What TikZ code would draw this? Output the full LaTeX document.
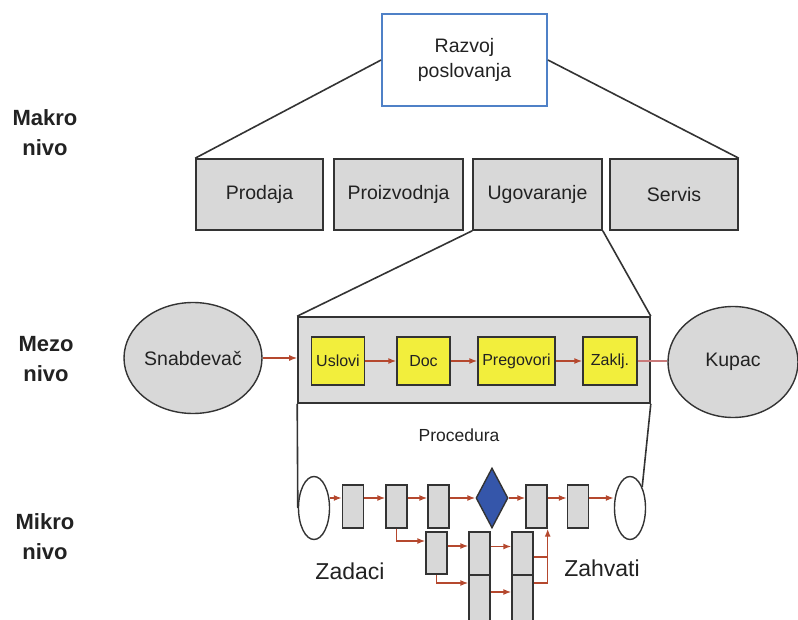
\documentclass[tikz,border=0pt]{standalone}
\usepackage{fontspec}
\setmainfont{Liberation Sans}
\usetikzlibrary{shapes.geometric,arrows.meta}
\definecolor{boxgray}{HTML}{D8D8D8}
\definecolor{bandgray}{HTML}{DCDCDC}
\definecolor{edge}{HTML}{333333}
\definecolor{txt}{HTML}{222222}
\definecolor{razblue}{HTML}{4F81C7}
\definecolor{korakyellow}{HTML}{F2EE3C}
\definecolor{diablue}{HTML}{3556AA}
\definecolor{tok}{HTML}{B5482E}
\definecolor{tokpale}{HTML}{C97A7A}
\begin{document}
\begin{tikzpicture}[x=1pt,y=-1pt,
    every node/.style={inner sep=0pt,text=txt},
    lvl/.style={align=center,font=\bfseries\fontsize{22}{30}\selectfont},
    oblast/.style={draw=edge,fill=boxgray,line width=1.6pt,minimum height=71pt,font=\fontsize{19.5}{24}\selectfont},
    akter/.style={ellipse,draw=edge,fill=boxgray,line width=1.4pt,minimum width=130pt,minimum height=111pt,font=\fontsize{19.5}{24}\selectfont},
    korak/.style={draw=edge,fill=korakyellow,line width=1.4pt,minimum height=48pt,font=\fontsize{16}{20}\selectfont},
    zadatak/.style={draw=edge,fill=boxgray,line width=1.4pt,minimum width=21pt,minimum height=43pt},
    kraj/.style={ellipse,draw=edge,fill=white,line width=1.4pt,minimum width=31pt,minimum height=63pt},
    veza/.style={draw=edge,line width=1.6pt},
    tokln/.style={draw=tok,line width=1.4pt},
    flow/.style={tokln,-{Latex[length=8pt,width=6pt]}},
    velik/.style={font=\fontsize{23}{28}\selectfont}]
    \path[use as bounding box,clip] (0,0) rectangle (798,620);
    \node [lvl] (makro) at (45,133) {Makro\\nivo};
    \node [lvl] (mezo) at (46,359) {Mezo\\nivo};
    \node [lvl] (mikro) at (45,537) {Mikro\\nivo};
    \node [draw=razblue,fill=white,line width=1.8pt,minimum width=165pt,minimum height=92pt,align=center,font=\fontsize{19.5}{25}\selectfont] (razvoj) at (464.5,60) {Razvoj\\poslovanja};
    \node [oblast,minimum width=127pt] (prodaja) at (259.5,194.5) {Prodaja};
    \node [oblast,minimum width=129pt] (proizv) at (398.5,194.5) {Proizvodnja};
    \node [oblast,minimum width=129pt] (ugov) at (537.5,194.5) {Ugovaranje};
    \node [oblast,minimum width=128pt] (servis) at (674,194.5) {Servis};
    \draw [veza] (razvoj.west) -- (prodaja.north west);
    \draw [veza] (razvoj.east) -- (servis.north east);
    \node [akter] (snab) at (193,358) {Snabdeva\v{c}};
    \node [akter] (kupac) at (733,362) {Kupac};
    \node [draw=edge,fill=bandgray,line width=1.6pt,minimum width=352pt,minimum height=86pt] (band) at (474,360) {};
    \node [korak,minimum width=53pt] (uslovi) at (338,361) {Uslovi};
    \node [korak,minimum width=53pt] (doc) at (423.5,361) {Doc};
    \node [korak,minimum width=77pt] (preg) at (516.5,361) {Pregovori};
    \node [korak,minimum width=54pt] (zakl) at (610,361) {Zaklj.};
    \draw [veza] (ugov.south west) -- (band.north west);
    \draw [veza] (ugov.south east) -- (band.north east);
    \draw [flow] (snab.east) -- (snab.east -| band.west);
    \draw [flow] (uslovi) -- (doc);
    \draw [flow] (doc) -- (preg);
    \draw [flow] (preg) -- (zakl);
    \draw [draw=tokpale,line width=1.3pt] (zakl.east) -- (zakl.east -| kupac.west);
    \node [font=\fontsize{17.5}{21}\selectfont] (proc) at (459,435) {Procedura};
    \node [kraj] (ulaz) at (314,508) {};
    \node [kraj] (izlaz) at (630,508) {};
    \draw [veza] (band.south west) -- (ulaz.west);
    \draw [veza] (band.south east) -- (izlaz.60);
    \node [zadatak] (z1) at (353,506.5) {};
    \node [zadatak] (z2) at (396.5,506.5) {};
    \node [zadatak] (z3) at (438.5,506.5) {};
    \node [diamond,draw=edge,fill=diablue,line width=1.4pt,aspect=0.53,minimum width=32pt,minimum height=60pt] (odluka) at (492,498) {};
    \node [zadatak] (z4) at (536.5,506.5) {};
    \node [zadatak] (z5) at (578,506.5) {};
    \node [zadatak,minimum height=42pt] (c1) at (436.5,553) {};
    \node [zadatak] (c2) at (479.5,553.5) {};
    \node [zadatak] (c3) at (522.5,553.5) {};
    \node [zadatak,minimum height=50pt] (c2b) at (479.5,600) {};
    \node [zadatak,minimum height=50pt] (c3b) at (522.5,600) {};
    \draw [flow] (ulaz.east |- odluka) -- (z1.west |- odluka);
    \draw [flow] (z1.east |- odluka) -- (z2.west |- odluka);
    \draw [flow] (z2.east |- odluka) -- (z3.west |- odluka);
    \draw [flow] (z3.east |- odluka) -- (odluka.west);
    \draw [flow] (odluka.east) -- (z4.west |- odluka);
    \draw [flow] (z4.east |- odluka) -- (z5.west |- odluka);
    \draw [flow] (z5.east |- odluka) -- (izlaz.west |- odluka);
    \draw [flow] (z2.south) |- ([yshift=12pt]c1.west);
    \draw [flow] ([yshift=7pt]c1.east) -- ([yshift=7pt]c1.east -| c2.west);
    \draw [flow] ([yshift=7pt]c2.east) -- ([yshift=7pt]c2.east -| c3.west);
    \draw [flow] (c1.south) |- ([yshift=17pt]c2b.west);
    \draw [flow] ([yshift=8pt]c2b.east) -- ([yshift=8pt]c2b.east -| c3b.west);
    \draw [tokln] ([yshift=-3.5pt]c3.east) -- ([yshift=-3.5pt]c3.east -| z4.south east);
    \draw [flow] ([yshift=17pt]c3b.east) -| (z4.south east);
    \node [velik] (zadaci) at (350,571) {Zadaci};
    \node [velik] (zahvati) at (602,568) {Zahvati};
\end{tikzpicture}
\end{document}
